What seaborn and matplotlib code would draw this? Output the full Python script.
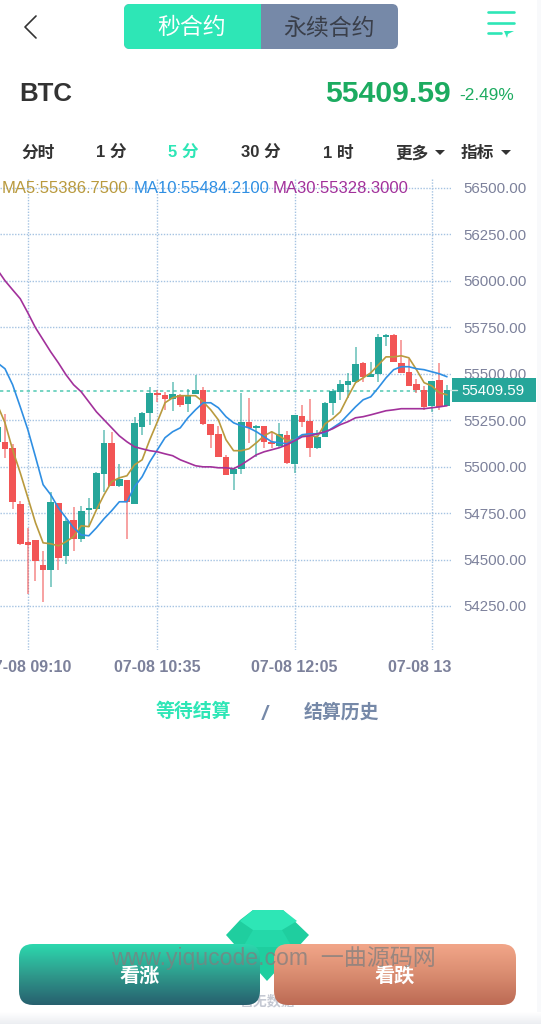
import matplotlib
matplotlib.use("Agg")
import numpy as np
import pandas as pd
import seaborn as sns
from matplotlib import pyplot as plt
from matplotlib.colors import LinearSegmentedColormap
from matplotlib.patches import FancyBboxPatch, Polygon, Rectangle
from matplotlib.transforms import ScaledTranslation

# candles
opens = [55134, 55134, 55102, 54800, 54596, 54607, 54472, 54445, 54806, 54520, 54714, 54612, 54768, 54773, 54962,
         55129, 54897, 54930, 54800, 55215, 55290, 55398, 55387, 55365, 55387, 55339, 55392, 55414, 55231, 55177,
         55053, 54962, 54989, 55242, 55209, 55220, 55129, 55113, 55172, 55016, 55274, 55247, 55102, 55161, 55344,
         55403, 55441, 55457, 55559, 55484, 55500, 55699, 55710, 55559, 55511, 55446, 55414, 55328, 55468, 55328]
closes = [55215, 55096, 54811, 54585, 54580, 54494, 54445, 54811, 54510, 54709, 54612, 54763, 54779, 54967, 55129,
          54897, 54935, 54811, 55236, 55290, 55398, 55387, 55365, 55392, 55333, 55387, 55414, 55231, 55172, 55053,
          54956, 54989, 55242, 55209, 55220, 55134, 55123, 55177, 55021, 55279, 55242, 55102, 55161, 55344, 55409,
          55446, 55462, 55554, 55484, 55500, 55699, 55710, 55565, 55505, 55435, 55414, 55322, 55462, 55322, 55414]
highs = [55225, 55285, 55123, 54816, 54671, 54607, 54547, 54865, 54806, 54725, 54784, 54790, 54833, 54973, 55199,
         55188, 55016, 54930, 55269, 55295, 55430, 55414, 55403, 55457, 55392, 55419, 55495, 55430, 55231, 55220,
         55064, 54994, 55398, 55371, 55226, 55220, 55188, 55236, 55193, 55279, 55333, 55365, 55199, 55349, 55419,
         55468, 55505, 55645, 55565, 55565, 55715, 55715, 55715, 55683, 55581, 55473, 55435, 55462, 55559, 55441]
lows = [55118, 55048, 54773, 54580, 54316, 54386, 54273, 54354, 54445, 54477, 54547, 54596, 54677, 54773, 54865,
        54897, 54892, 54612, 54800, 55172, 55226, 55349, 55306, 55301, 55322, 55295, 55392, 55226, 55102, 55053,
        54956, 54876, 54962, 55129, 55053, 55102, 55102, 55107, 55016, 54967, 55215, 55053, 55096, 55161, 55279,
        55360, 55371, 55457, 55457, 55484, 55457, 55651, 55565, 55505, 55435, 55398, 55306, 55295, 55306, 55328]

ma5 = [55333, 55236, 55091, 54967, 54833, 54698, 54590, 54585, 54574, 54596, 54623, 54682, 54677, 54768, 54849,
       54919, 54940, 54951, 55010, 55037, 55145, 55242, 55344, 55371, 55382, 55382, 55382, 55349, 55306, 55252,
       55145, 55086, 55086, 55096, 55129, 55166, 55188, 55166, 55139, 55145, 55166, 55166, 55161, 55231, 55258,
       55295, 55376, 55452, 55478, 55505, 55548, 55591, 55591, 55597, 55586, 55522, 55452, 55435, 55398, 55387]
ma10 = [55559, 55527, 55441, 55322, 55199, 55053, 54903, 54849, 54779, 54725, 54671, 54633, 54628, 54671, 54720,
        54763, 54811, 54811, 54892, 54946, 55026, 55091, 55156, 55188, 55209, 55263, 55306, 55344, 55344, 55317,
        55269, 55236, 55220, 55209, 55188, 55161, 55134, 55129, 55123, 55145, 55172, 55177, 55177, 55182, 55209,
        55236, 55279, 55322, 55360, 55376, 55425, 55478, 55522, 55538, 55538, 55527, 55522, 55511, 55500, 55484]
ma30 = [56060, 56001, 55952, 55904, 55828, 55748, 55683, 55618, 55559, 55495, 55441, 55403, 55349, 55295, 55252,
        55209, 55166, 55134, 55107, 55096, 55086, 55080, 55069, 55059, 55037, 55021, 55005, 54999, 54999, 54994,
        54994, 54989, 55010, 55037, 55064, 55080, 55091, 55102, 55118, 55139, 55161, 55166, 55177, 55188, 55204,
        55226, 55242, 55263, 55269, 55279, 55290, 55301, 55306, 55312, 55312, 55312, 55312, 55317, 55322, 55328]

last_price = 55409.59
y_ticks = [56500, 56250, 56000, 55750, 55500, 55250, 55000, 54750, 54500, 54250]
x_tick_pos = [4, 21, 39, 57]
x_tick_labels = ["07-08 09:10", "07-08 10:35", "07-08 12:05", "07-08 13"]
period_tabs = ["分时", "1 分", "5 分", "30 分", "1 时", "更多", "指标"]
ma_legend = ["MA5:55386.7500", "MA10:55484.2100", "MA30:55328.3000"]

W, H = 541, 1024
CJK = ["Liberation Sans", "Noto Sans CJK SC"]
TEAL = "#2EE6B6"
SLATE = "#7689A8"
UP = "#26A69A"
DOWN = "#F25555"
GOLD = "#B99A3E"
BLUE = "#2F8FE3"
PURPLE = "#A2319B"
AXIS_GREY = "#7C819B"

sns.set_theme(style="white")
plt.rcParams["font.family"] = CJK

fig = plt.figure(figsize=(W / 100, H / 100), dpi=100, facecolor="white")

# chart area, pixels 0..451 across, 178..650 down
ax = fig.add_axes([0, 1 - 650 / H, 451 / W, (650 - 178) / H])
df = pd.DataFrame({"i": np.arange(len(opens)), "open": opens, "close": closes, "high": highs, "low": lows,
                   "ma5": ma5, "ma10": ma10, "ma30": ma30})
rising = df["close"] >= df["open"]
colors = np.where(rising, UP, DOWN)

ax.grid(True, color="#A5C3E2", linestyle=(0, (1, 1.1)), linewidth=1.0)
ax.set_axisbelow(True)
ax.axhline(last_price, color="#5FCDB9", linestyle=(0, (2, 2)), linewidth=1.2, zorder=1.5)
ax.vlines(df["i"], df["low"], df["high"], colors=colors, linewidth=1.1, alpha=0.7, zorder=2)
ax.bar(df["i"], (df["close"] - df["open"]).abs().clip(lower=8), bottom=df[["open", "close"]].min(axis=1),
       width=0.87, color=colors, linewidth=0, zorder=2.2)
for col, c in [("ma5", GOLD), ("ma10", BLUE), ("ma30", PURPLE)]:
    sns.lineplot(data=df, x="i", y=col, ax=ax, color=c, linewidth=1.2, zorder=3, legend=False, errorbar=None)

# x px = 7.62 i - 2.62, 2250 price units over 418 px
ax.set_xlim(2.62 / 7.62, (451 + 2.62) / 7.62)
ax.set_ylim(56500 - (650 - 188) * 2250 / 418, 56500 + (188 - 178) * 2250 / 418)
ax.set_xlabel("")
ax.set_ylabel("")
sns.despine(ax=ax, left=True, bottom=True)
ax.yaxis.tick_right()
ax.set_yticks(y_ticks, [f"{v:.2f}" for v in y_ticks])
ax.set_xticks(x_tick_pos, x_tick_labels)
ax.tick_params(axis="y", length=0, pad=9, labelsize=10.8, labelcolor=AXIS_GREY)
ax.tick_params(axis="x", length=0, pad=7.5, labelsize=11.5, labelcolor=AXIS_GREY)
for lab in ax.get_xticklabels():
    lab.set_fontweight("bold")
last_lab = ax.get_xticklabels()[-1]
last_lab.set_transform(last_lab.get_transform() + ScaledTranslation(-12 / 100, 0, fig.dpi_scale_trans))

# everything else sits on a full-figure overlay in pixel coordinates
ov = fig.add_axes([0, 0, 1, 1], facecolor="none")
ov.set_axis_off()


def vgrad(x0, x1, y0, y1, cols, clip=None, zorder=1):
    cmap = LinearSegmentedColormap.from_list("g", cols)
    im = ov.imshow(np.linspace(0, 1, 128).reshape(-1, 1), extent=(x0, x1, y1, y0), aspect="auto", cmap=cmap,
                   zorder=zorder)
    if clip is not None:
        im.set_clip_path(clip)
    return im


ov.add_patch(Rectangle((537, 0), 4, H, color="#F8F9FB", lw=0, zorder=0))
vgrad(0, W, 1012, H, ["#FFFFFF", "#ECEEF2"], zorder=0)

# header pill
pill = FancyBboxPatch((124, 4), 274, 45, boxstyle="round,pad=0,rounding_size=6", fc=SLATE, ec="none", zorder=2)
ov.add_patch(pill)
left_half = Rectangle((124, 4), 137, 45, fc=TEAL, ec="none", zorder=2.1)
ov.add_patch(left_half)
left_half.set_clip_path(pill)
ov.text(192, 27, "秒合约", color="white", fontsize=16.5, ha="center", va="center", zorder=3)
ov.text(329, 28, "永续合约", color="#3A3F4A", fontsize=16.5, ha="center", va="center", zorder=3)
ov.plot([36, 25, 36], [16, 27, 38], color="#333333", lw=1.2, zorder=3)
for y, x1 in [(12, 514), (23, 514), (33, 501)]:
    ov.plot([488, x1], [y, y], color=TEAL, lw=1.9, solid_capstyle="round", zorder=3)
ov.add_patch(Polygon([(504, 31), (514, 31), (508, 34), (507, 38)], fc=TEAL, ec="none", zorder=3))

# price line
ov.text(19, 94, "BTC", color="#333333", fontsize=18.6, fontweight="bold", ha="left", va="center")
ov.text(451, 93.5, "55409.59", color="#1CAB60", fontsize=21.7, fontweight="bold", ha="right", va="center")
ov.text(459, 96, "-2.49%", color="#1CAB60", fontsize=12.4, ha="left", va="center")

# period tabs
tab_x = [38, 111, 183, 261, 338]
for k, (name, x) in enumerate(zip(period_tabs[:5], tab_x)):
    ov.text(x, 153.5, name, color=TEAL if k == 2 else "#333333", fontsize=12, fontweight="bold",
            ha="center", va="center")
ov.text(395, 153.5, period_tabs[5], color="#333333", fontsize=12, fontweight="bold", ha="left", va="center")
ov.text(461, 153.5, period_tabs[6], color="#333333", fontsize=12, fontweight="bold", ha="left", va="center")
ov.add_patch(Polygon([(435, 150), (445, 150), (440, 155)], fc="#333333", ec="none"))
ov.add_patch(Polygon([(501, 150), (511, 150), (506, 155)], fc="#333333", ec="none"))

# MA legend
for name, x, c in zip(ma_legend, [2, 134, 273], [GOLD, BLUE, PURPLE]):
    ov.text(x, 188.5, name, color=c, fontsize=12, ha="left", va="center", zorder=4)

# last price tag
ov.add_patch(Rectangle((452, 378), 84, 24, fc=UP, ec="none", zorder=4))
ov.plot([450, 457], [390, 390], color="#CFE9E4", lw=1, zorder=5)
ov.text(493, 391, "55409.59", color="white", fontsize=10.8, ha="center", va="center", zorder=5)

# tabs below the chart
ov.text(193, 712, "等待结算", color=TEAL, fontsize=13.6, fontweight="bold", ha="center", va="center")
ov.text(265, 714, "/", color=SLATE, fontsize=15, fontweight="bold", style="italic", ha="center", va="center")
ov.text(341, 712, "结算历史", color=SLATE, fontsize=13.6, fontweight="bold", ha="center", va="center")

# empty-state diamond
ov.add_patch(Polygon([(253, 910), (283, 910), (309, 935), (267, 981), (226, 935), (240, 920)], fc="#1FCE9F", ec="none", zorder=1))
ov.add_patch(Polygon([(253, 910), (283, 910), (297, 921), (282, 930), (253, 930), (240, 921)], fc=TEAL, ec="none", zorder=1.1))
ov.add_patch(Polygon([(253, 930), (282, 930), (292, 947), (243, 947)], fc="#24D8A9", ec="none", zorder=1.1))
ov.text(267, 1001, "暂无数据", color="#C5C9D3", fontsize=10, fontweight="bold", ha="center", va="center", zorder=0.5)

# buttons
btn_up = FancyBboxPatch((19, 944), 241, 61, boxstyle="round,pad=0,rounding_size=14", fc="none", ec="none", zorder=2)
btn_down = FancyBboxPatch((274, 944), 242, 61, boxstyle="round,pad=0,rounding_size=14", fc="none", ec="none", zorder=2)
ov.add_patch(btn_up)
ov.add_patch(btn_down)
vgrad(19, 260, 944, 1005, ["#2CD8AE", "#2F9A8C", "#27606E"], clip=btn_up, zorder=2)
vgrad(274, 516, 944, 1005, ["#F2A689", "#D98C70", "#BC6A54"], clip=btn_down, zorder=2)
ov.text(140, 976, "看涨", color="white", fontsize=14.5, fontweight="bold", ha="center", va="center", zorder=4)
ov.text(395, 976, "看跌", color="white", fontsize=14.5, fontweight="bold", ha="center", va="center", zorder=4)
ov.text(273, 958, "www.yiqucode.com  一曲源码网", color="#7F7F7F", alpha=0.75, fontsize=16.6, ha="center", va="center", zorder=5)

ov.set_xlim(0, W)
ov.set_ylim(H, 0)
ov.set_aspect("auto")
fig.savefig("out.png", dpi=100)
